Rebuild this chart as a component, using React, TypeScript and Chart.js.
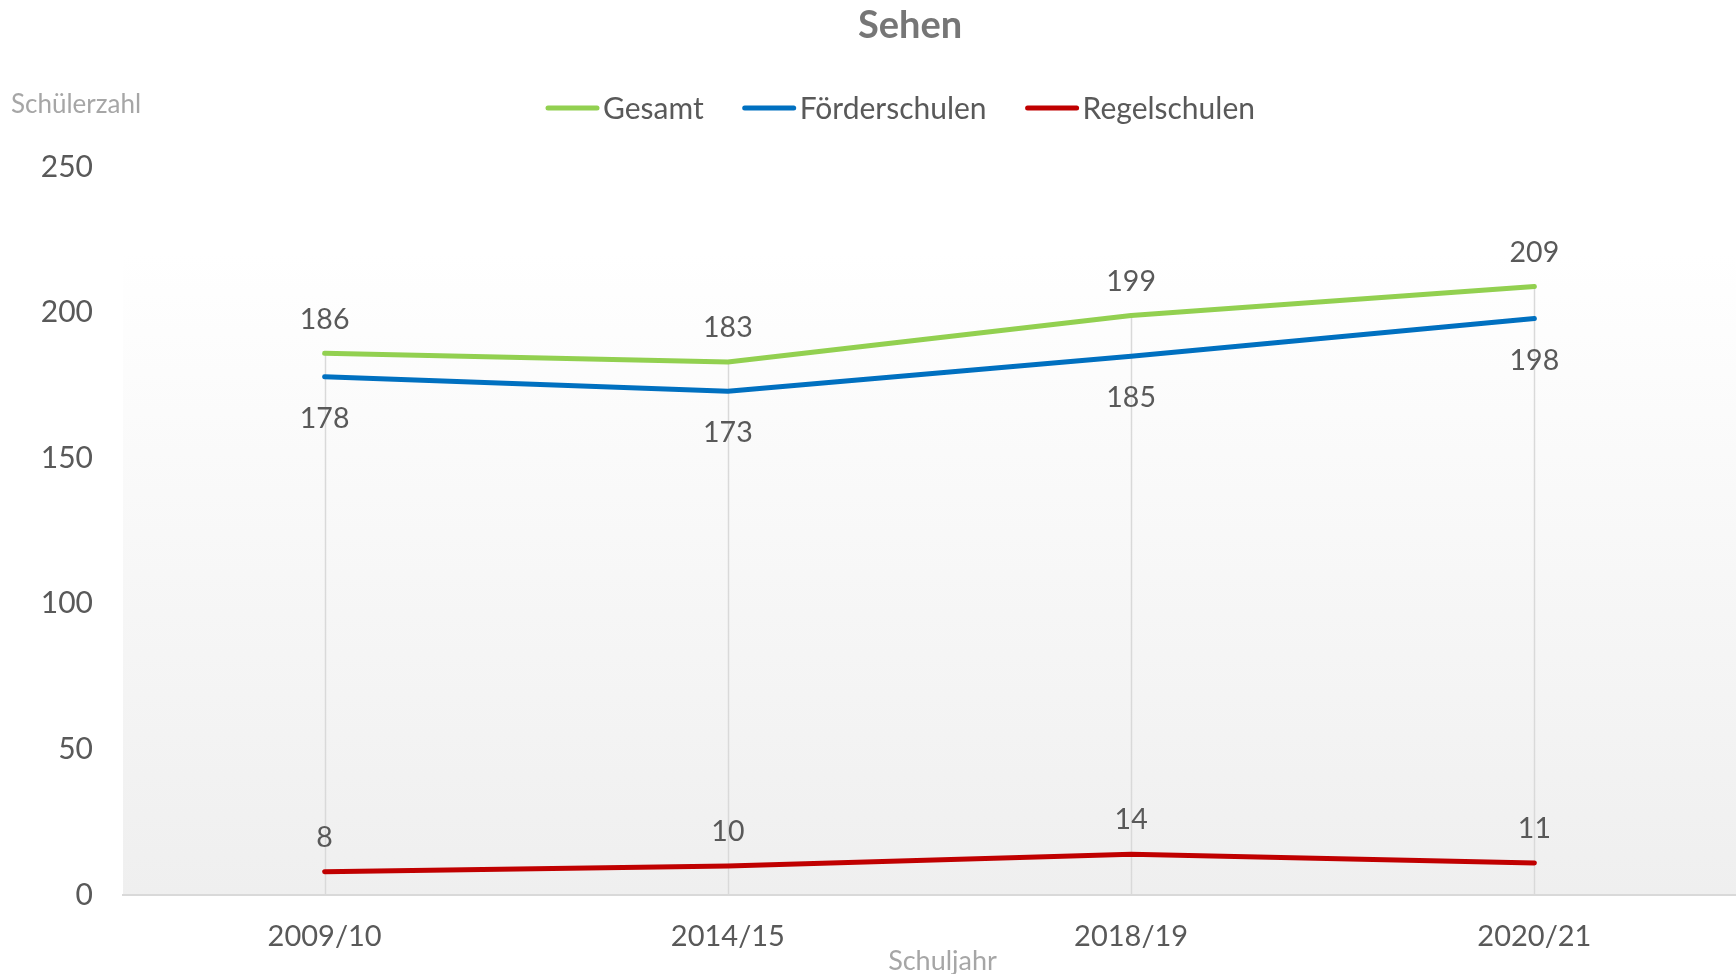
import React, { useEffect, useRef } from "react";
import { Chart, registerables } from "chart.js";

Chart.register(...registerables);

const categories = ["2009/10", "2014/15", "2018/19", "2020/21"];
const gesamt = [186, 183, 199, 209];
const foerderschulen = [178, 173, 185, 198];
const regelschulen = [8, 10, 14, 11];
const yTickValues = [0, 50, 100, 150, 200, 250];
const seriesNames = ["Gesamt", "Förderschulen", "Regelschulen"];
const chartTitle = "Sehen";
const yAxisTitle = "Schülerzahl";
const xAxisTitle = "Schuljahr";

const FONT = "Lato, 'Open Sans', sans-serif";
const colors = ["#92d050", "#0070c0", "#c00000"];
const labelOffsets = [-34, 42, -34];

const decorPlugin = {
  id: "decor",
  beforeDraw(chart: any) {
    const { ctx, chartArea } = chart;
    const top = chartArea.top + chartArea.height * 0.117;
    const g = ctx.createLinearGradient(0, top, 0, chartArea.bottom);
    g.addColorStop(0, "#ffffff");
    g.addColorStop(1, "#efefef");
    ctx.save();
    ctx.fillStyle = g;
    ctx.fillRect(chartArea.left, top, chartArea.right - chartArea.left, chartArea.bottom - top);
    ctx.restore();
  },
  beforeDatasetsDraw(chart: any) {
    const { ctx, chartArea } = chart;
    const n = chart.data.labels.length;
    ctx.save();
    ctx.strokeStyle = "#d9d9d9";
    ctx.lineWidth = 1.5;
    for (let j = 0; j < n; j++) {
      let minY = Infinity;
      let x = 0;
      chart.data.datasets.forEach((_: any, i: number) => {
        const pt = chart.getDatasetMeta(i).data[j];
        if (pt && pt.y < minY) {
          minY = pt.y;
          x = pt.x;
        }
      });
      ctx.beginPath();
      ctx.moveTo(Math.round(x) + 0.5, minY);
      ctx.lineTo(Math.round(x) + 0.5, chartArea.bottom);
      ctx.stroke();
    }
    ctx.restore();
  },
  afterDraw(chart: any) {
    const { ctx, chartArea } = chart;
    ctx.save();
    // data labels
    ctx.font = `28.5px ${FONT}`;
    ctx.fillStyle = "#595959";
    ctx.textAlign = "center";
    ctx.textBaseline = "middle";
    chart.data.datasets.forEach((ds: any, i: number) => {
      const meta = chart.getDatasetMeta(i);
      meta.data.forEach((pt: any, j: number) => {
        ctx.fillText(String(ds.data[j]), pt.x, pt.y + labelOffsets[i]);
      });
    });
    // title
    ctx.font = `bold 38px ${FONT}`;
    ctx.fillStyle = "#767676";
    ctx.fillText(chartTitle, 910, 26);
    // axis titles
    ctx.font = `26px ${FONT}`;
    ctx.fillStyle = "#a6a6a6";
    ctx.textAlign = "left";
    ctx.fillText(yAxisTitle, 11, 105);
    ctx.textAlign = "center";
    ctx.font = `27px ${FONT}`;
    ctx.fillText(xAxisTitle, (chartArea.left + chartArea.right) / 2 + 13, 961);
    // legend
    ctx.font = `30px ${FONT}`;
    ctx.textAlign = "left";
    let x = 546;
    const y = 109;
    chart.data.datasets.forEach((ds: any, i: number) => {
      ctx.strokeStyle = ds.borderColor;
      ctx.lineWidth = 5;
      ctx.lineCap = "round";
      ctx.beginPath();
      ctx.moveTo(x + 2, y - 1);
      ctx.lineTo(x + 51, y - 1);
      ctx.stroke();
      ctx.fillStyle = "#595959";
      ctx.fillText(ds.label, x + 57, y);
      x += 57 + ctx.measureText(ds.label).width + 39;
    });
    ctx.restore();
  },
};

export default function App() {
  const ref = useRef<HTMLCanvasElement>(null);
  useEffect(() => {
    document.body.style.margin = "0";
    const series = [gesamt, foerderschulen, regelschulen];
    const chart = new Chart(ref.current as HTMLCanvasElement, {
      type: "line",
      data: {
        labels: categories,
        datasets: series.map((d, i) => ({
          label: seriesNames[i],
          data: d,
          borderColor: colors[i],
          backgroundColor: colors[i],
          borderWidth: 5,
          pointRadius: 0,
          pointHoverRadius: 0,
          tension: 0,
          borderCapStyle: "round",
          borderJoinStyle: "round",
          fill: false,
        })),
      },
      options: {
        responsive: false,
        animation: false,
        layout: { padding: { top: 167, right: 0, bottom: 0, left: 0 } },
        plugins: {
          legend: { display: false },
          title: { display: false },
          tooltip: { enabled: false },
        },
        scales: {
          x: {
            offset: true,
            grid: { display: false, drawTicks: false },
            border: { display: true, color: "#d9d9d9", width: 2 },
            ticks: {
              padding: 24,
              color: "#595959",
              font: { family: FONT, size: 29 },
              maxRotation: 0,
            },
            afterFit(scale: any) {
              scale.height = 79;
            },
          },
          y: {
            min: 0,
            max: 250,
            afterBuildTicks(scale: any) {
              scale.ticks = yTickValues.map((v) => ({ value: v }));
            },
            grid: { display: false, drawTicks: false },
            border: { display: false },
            ticks: {
              padding: 30,
              color: "#595959",
              font: { family: FONT, size: 30 },
            },
            afterFit(scale: any) {
              scale.width = 123;
            },
          },
        },
      },
      plugins: [decorPlugin],
    } as any);
    return () => chart.destroy();
  }, []);
  return (
    <div style={{ position: "fixed", left: 0, top: 0, width: 1736, height: 974 }}>
      <canvas ref={ref} width={1736} height={974} />
    </div>
  );
}
